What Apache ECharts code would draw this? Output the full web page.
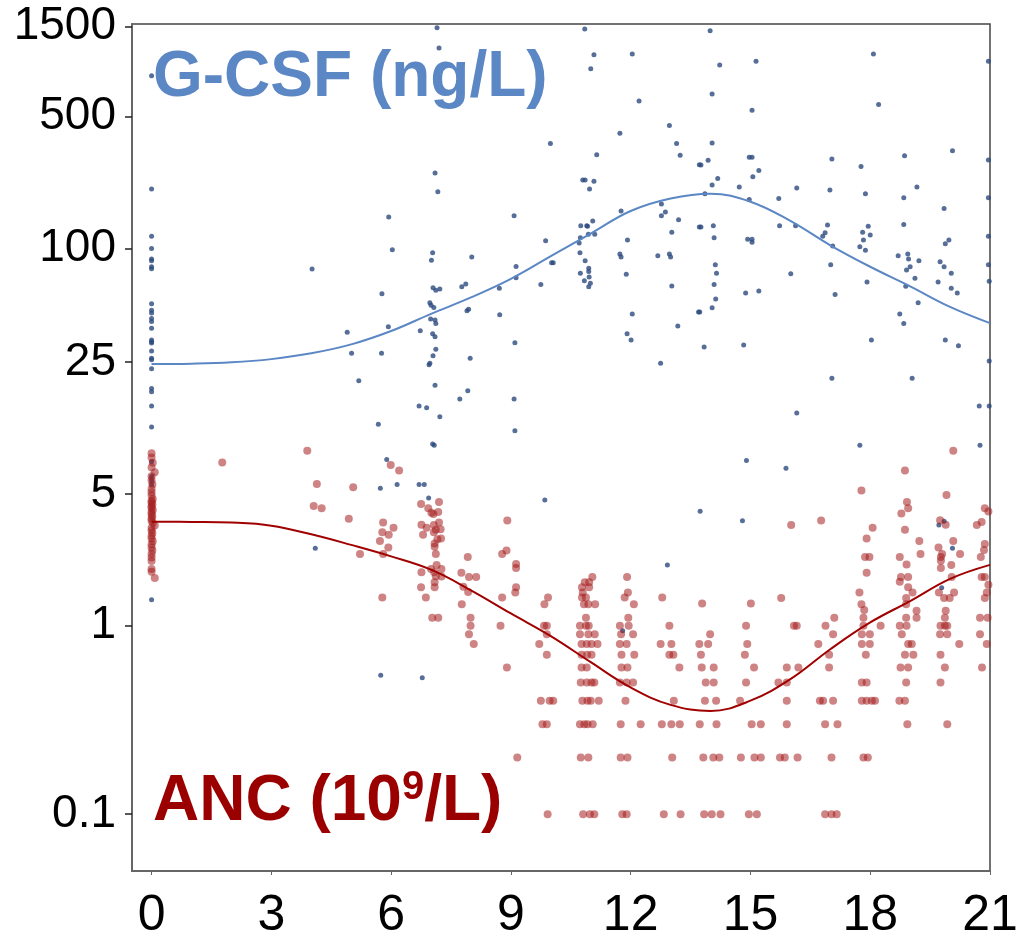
<!DOCTYPE html>
<html>
<head>
<meta charset="utf-8">
<title>G-CSF and ANC by day</title>
<script src="https://cdn.jsdelivr.net/npm/echarts@6/dist/echarts.min.js"></script>
<style>
  html, body { margin: 0; padding: 0; background: #fff; }
  #chart { width: 1018px; height: 939px; }
</style>
</head>
<body>
<div id="chart"></div>
<script>
// tick labels
var xTicks = [0, 3, 6, 9, 12, 15, 18, 21];
var yTicks = [0.1, 1, 5, 25, 100, 500, 1500];

// G-CSF (ng/L) observations: [day, value]
var gcsfPoints = [
  [0, 824], [0, 207], [0, 116], [0, 100], [0, 88], [0, 86], [0, 80], [0, 78], [0, 51], [0, 47],
  [0, 45.5], [0, 42.5], [0, 41], [0, 37.8], [0, 32.7], [0, 32], [0, 31.5], [0, 28.6], [0, 26.2], [0, 25.7],
  [0, 23], [0, 18.1], [0, 17.4], [0, 14.6], [0, 11.3], [0, 7.4], [0, 6.2], [0, 5.9], [0, 5.6], [0, 1.37],
  [4.02, 77.8], [5.94, 147], [6.03, 98.5], [5.77, 57.5], [5.93, 38.4], [4.9, 36], [5.01, 27.8], [5.76, 27.8],
  [5.19, 19.9], [5.68, 11.7], [5.89, 7.6], [5.73, 5.35], [6.15, 5.6], [4.1, 2.57], [5.74, 0.545], [6.78, 0.53],
  [11.8, 0.94],
  [7.15, 1482], [7.2, 1156], [10.85, 1460], [11.08, 1065], [11.0, 898], [12.04, 1074], [12.21, 605], [11.73, 408],
  [9.99, 360], [11.15, 314], [7.1, 251], [7.17, 200], [10.8, 231], [10.86, 231], [11.08, 227], [10.97, 207],
  [12.97, 449], [13.15, 360], [13.24, 312], [11.76, 158], [12.77, 172], [12.87, 156], [12.77, 149], [13.2, 142],
  [9.08, 149], [10.75, 132], [10.9, 132], [10.92, 131], [11.05, 140], [10.94, 119], [11.1, 119], [10.74, 114],
  [10.71, 107], [11.92, 111], [13.03, 122], [9.87, 110], [7.04, 95], [7.01, 86.6], [8.02, 90], [10.73, 95],
  [10.86, 86], [11.73, 93.5], [11.76, 90], [12.68, 91.5], [12.97, 93.5], [13.0, 90], [9.13, 80.3], [10.02, 84],
  [10.06, 84], [10.95, 78.5], [10.95, 75.6], [10.74, 74], [10.96, 70.5], [10.99, 65.5], [10.95, 62.7], [10.84, 67.5],
  [11.89, 73], [13.03, 63.3], [9.13, 70], [9.75, 64.5], [8.71, 61.5], [7.77, 62.7], [7.87, 64.8], [7.05, 62],
  [7.12, 60], [7.22, 61], [6.97, 51.5], [7.0, 50], [7.07, 48.7], [7.9, 46.7], [7.94, 47.6], [8.72, 44.5],
  [6.99, 42.3], [7.1, 41.8], [7.12, 40], [12.04, 45], [13.18, 38.8], [13.7, 46], [13.72, 130], [13.72, 278],
  [13.99, 1429], [14.23, 940], [15.14, 983], [14.04, 660], [15.04, 540], [18.08, 1074], [18.21, 580], [20.96, 983],
  [14.04, 362], [13.76, 277], [13.94, 294], [14.04, 217], [13.86, 195], [14.18, 235], [14.97, 305], [15.04, 305],
  [15.06, 240], [15.21, 259], [14.72, 212], [14.97, 182], [15.71, 184], [16.16, 209], [17.04, 298], [16.99, 204],
  [17.77, 272], [17.88, 195], [18.86, 310], [18.84, 186], [18.84, 134], [19.17, 212], [20.06, 330], [19.85, 163],
  [20.96, 295], [20.96, 186], [20.96, 116], [20.96, 82], [20.98, 67], [13.76, 130], [14.07, 132], [14.09, 114],
  [14.93, 112], [15.04, 112], [15.04, 108], [15.73, 132], [16.13, 132], [16.93, 133], [16.87, 121], [16.81, 116],
  [17.06, 103], [17.81, 122], [17.83, 111], [17.95, 131], [18.0, 118], [17.74, 102], [17.88, 98], [14.12, 82],
  [14.15, 74], [14.09, 64.5], [14.13, 54], [14.04, 48.5], [13.73, 46], [14.88, 58], [15.21, 59.5], [16.01, 73.5],
  [17.01, 82], [17.12, 57], [17.92, 66.5], [18.7, 91.5], [18.94, 93.5], [18.96, 88], [19.22, 86], [19.0, 80],
  [18.91, 77], [19.12, 69.5], [18.89, 63], [19.2, 51.5], [18.74, 45], [18.84, 40], [19.75, 85], [19.85, 80],
  [19.88, 106], [19.97, 111], [19.7, 66.5], [20.03, 74], [20.03, 61.5], [20.18, 58],
  [13.84, 30], [14.83, 30.8], [18.03, 32.7], [19.88, 32.7], [20.21, 30.5], [20.98, 25.3], [17.04, 20.5], [19.05, 20.5],
  [20.73, 14.6], [20.98, 14.6], [16.16, 13.4], [17.74, 9.05], [20.75, 9.05], [14.9, 7.5], [15.89, 6.83], [13.74, 4.04],
  [14.8, 3.6], [19.72, 3.42], [19.85, 3.58], [20.06, 2.57], [19.79, 1.59],
  [6.73, 36.6], [7.04, 35.3], [7.1, 34], [7.12, 29.2], [7.05, 27], [6.97, 24.6], [6.95, 24.2], [7.98, 26.2],
  [7.1, 18.8], [7.92, 17.6], [7.72, 15.9], [6.7, 14.6], [6.89, 14.3], [7.22, 12.8], [7.04, 9.2], [7.08, 9.05],
  [9.1, 31.6], [9.08, 15.9], [9.1, 10.8], [6.7, 5.6], [6.83, 5.6], [6.94, 4.75], [9.85, 4.64], [11.91, 35.3],
  [12.01, 32.7], [12.75, 24.6], [12.92, 2.1]
];

// ANC (10^9/L) observations: [day, value]
var ancPoints = [
  [0, 8.2], [0, 7.8], [0.03, 7.3], [0, 6.9], [0.08, 6.5], [0, 6.2], [0, 5.9], [0.02, 5.6], [0, 5.3], [0, 5.1],
  [0, 4.9], [0.03, 4.7], [0, 4.6], [0, 4.5], [0.02, 4.4], [0, 4.3], [0, 4.2], [0.03, 4.1], [0, 4.0], [0, 3.9],
  [0.02, 3.8], [0, 3.7], [0, 3.6], [0.03, 3.5], [0.08, 3.4], [0, 3.3], [0, 3.2], [0.02, 3.1], [0, 3.0], [0, 2.9],
  [0.03, 2.8], [0, 2.7], [0, 2.6], [0.02, 2.5], [0, 2.4], [0, 2.3], [0, 2.2], [0, 2.0], [0, 1.93], [0.08, 1.79],
  [3.9, 8.45], [1.77, 7.33], [4.14, 5.64], [5.05, 5.42], [4.06, 4.31], [4.26, 4.19], [4.94, 3.69], [5.99, 7.1],
  [6.2, 6.64], [5.8, 3.52], [6.06, 3.3], [5.78, 3.13], [5.94, 3.03], [5.72, 2.81], [5.93, 2.6], [5.8, 2.4],
  [5.22, 2.4], [5.78, 1.41],
  [6.75, 4.42], [7.2, 4.52], [6.93, 4.19], [7.01, 3.97], [7.18, 4.0], [7.06, 3.91], [6.76, 3.43], [6.89, 3.3],
  [7.2, 3.52], [7.07, 3.42], [6.8, 3.03], [7.12, 3.22], [7.24, 3.24], [7.07, 3.13], [7.25, 2.9], [7.16, 2.87],
  [7.09, 2.73], [7.09, 2.62], [7.12, 2.4], [7.14, 2.1], [7.0, 2.0], [7.26, 2.0], [7.26, 1.82], [6.76, 1.92],
  [7.08, 1.92], [7.12, 1.83], [6.75, 1.6], [7.09, 1.7], [7.09, 1.6], [6.87, 1.41], [7.03, 1.1], [7.18, 1.1],
  [7.92, 2.31], [7.76, 1.91], [7.95, 1.81], [8.13, 1.81], [7.81, 1.61], [7.93, 1.51], [7.77, 1.3], [7.99, 1.1],
  [8.91, 3.61], [8.78, 2.4], [8.89, 2.5], [9.13, 2.12], [9.13, 2.02], [9.13, 1.6], [9.11, 1.5], [8.78, 1.41],
  [9.93, 1.41], [9.84, 1.3], [11.04, 1.81], [10.96, 1.7], [10.85, 1.7], [10.78, 1.6], [10.96, 1.6], [10.8, 1.5],
  [10.78, 1.41], [10.88, 1.41], [10.83, 1.3], [10.94, 1.3], [11.11, 1.3], [11.91, 1.81], [11.93, 1.5], [11.85, 1.41],
  [12.08, 1.3], [12.79, 1.41], [10.88, 1.1], [11.94, 1.1],
  [7.99, 1.0], [8.74, 1.0], [9.83, 1.0], [9.9, 1.0], [10.73, 1.0], [10.88, 1.0], [10.95, 1.0], [11.73, 1.0],
  [11.95, 1.0], [12.97, 1.0],
  [7.95, 0.9], [9.9, 0.9], [10.73, 0.9], [10.94, 0.9], [11.1, 0.9], [11.76, 0.9], [12.06, 0.9],
  [8.07, 0.8], [9.71, 0.8], [10.77, 0.8], [10.9, 0.8], [11.02, 0.8], [11.17, 0.8], [11.73, 0.8], [11.9, 0.8],
  [12.75, 0.8], [13.02, 0.8], [13.72, 0.8],
  [9.9, 0.7], [10.77, 0.7], [10.91, 0.7], [11.02, 0.7], [11.77, 0.7], [12.09, 0.7], [12.97, 0.7], [13.07, 0.7],
  [8.9, 0.6], [10.77, 0.6], [10.9, 0.6], [11.77, 0.6], [11.92, 0.6], [13.22, 0.6],
  [10.75, 0.5], [10.9, 0.5], [11.02, 0.5], [11.09, 0.5], [11.73, 0.5], [11.9, 0.5], [12.06, 0.5],
  [9.75, 0.4], [9.97, 0.4], [10.06, 0.4], [10.79, 0.4], [10.92, 0.4], [11.0, 0.4], [11.2, 0.4], [11.87, 0.4],
  [13.08, 0.4],
  [9.79, 0.3], [9.9, 0.3], [10.73, 0.3], [10.84, 0.3], [10.92, 0.3], [11.05, 0.3], [11.75, 0.3], [12.25, 0.3],
  [12.78, 0.3], [13.02, 0.3], [13.23, 0.3], [13.73, 0.3],
  [9.16, 0.2], [10.75, 0.2], [10.94, 0.2], [11.75, 0.2], [11.92, 0.2], [13.04, 0.2],
  [9.92, 0.1], [10.81, 0.1], [10.98, 0.1], [11.09, 0.1], [11.79, 0.1], [11.9, 0.1], [12.83, 0.1], [13.25, 0.1],
  [17.1, 1.1], [17.83, 1.1], [18.9, 1.1], [19.16, 1.1], [19.87, 1.1], [20.75, 1.1], [20.94, 1.1],
  [14.89, 1.0], [16.09, 1.0], [16.16, 1.0], [16.88, 1.0], [17.83, 1.0], [18.26, 1.0], [18.74, 1.0], [18.91, 1.0],
  [19.76, 1.0], [19.87, 1.0], [19.93, 1.0],
  [13.99, 0.9], [17.07, 0.9], [17.79, 0.9], [17.99, 0.9], [18.79, 0.9], [19.75, 0.9], [19.93, 0.9], [20.75, 0.9],
  [13.94, 0.8], [14.92, 0.8], [16.7, 0.8], [17.79, 0.8], [17.99, 0.8], [18.95, 0.8], [19.04, 0.8], [20.23, 0.8],
  [20.92, 0.8],
  [13.76, 0.7], [14.86, 0.7], [16.97, 0.7], [17.89, 0.7], [18.87, 0.7], [19.08, 0.7], [19.76, 0.7],
  [13.78, 0.6], [14.08, 0.6], [15.09, 0.6], [15.91, 0.6], [16.2, 0.6], [16.97, 0.6], [18.76, 0.6], [18.95, 0.6],
  [19.87, 0.6], [20.8, 0.6],
  [13.88, 0.5], [14.08, 0.5], [14.89, 0.5], [15.7, 0.5], [15.91, 0.5], [17.79, 0.5], [17.91, 0.5], [18.9, 0.5],
  [19.76, 0.5],
  [13.86, 0.4], [14.14, 0.4], [14.74, 0.4], [15.91, 0.4], [16.74, 0.4], [16.82, 0.4], [17.07, 0.4], [17.79, 0.4],
  [17.91, 0.4], [18.04, 0.4], [18.12, 0.4], [18.73, 0.4], [18.87, 0.4],
  [14.15, 0.3], [15.03, 0.3], [15.26, 0.3], [15.91, 0.3], [16.87, 0.3], [17.18, 0.3], [18.93, 0.3], [19.93, 0.3],
  [13.82, 0.2], [14.07, 0.2], [14.22, 0.2], [14.76, 0.2], [15.1, 0.2], [15.26, 0.2], [15.74, 0.2], [15.86, 0.2],
  [16.18, 0.2], [17.03, 0.2], [17.83, 0.2], [17.94, 0.2],
  [13.84, 0.1], [14.03, 0.1], [14.25, 0.1], [14.96, 0.1], [15.16, 0.1], [16.87, 0.1], [17.03, 0.1], [17.16, 0.1],
  [20.08, 8.45], [18.87, 6.64], [17.78, 5.2], [19.91, 4.93], [18.92, 4.52], [18.95, 4.19], [18.78, 3.93], [20.87, 4.19],
  [20.96, 4.03], [19.75, 3.62], [19.89, 3.43], [18.06, 3.3], [18.87, 3.22], [20.79, 3.54], [20.67, 3.42], [17.91, 2.9],
  [19.23, 2.81], [20.08, 2.81], [19.71, 2.6], [20.87, 2.71], [19.26, 2.4], [20.25, 2.4], [19.8, 2.4], [20.85, 2.52],
  [18.74, 2.31], [17.87, 2.31], [17.98, 2.31], [19.77, 2.31], [19.77, 2.21], [19.77, 2.02], [20.77, 2.31], [18.91, 2.11],
  [20.03, 2.1], [17.91, 1.91], [18.77, 1.81], [18.95, 1.81], [20.79, 1.81], [20.87, 1.81], [18.74, 1.71], [20.04, 1.81],
  [18.95, 1.6], [19.06, 1.5], [17.73, 1.5], [18.9, 1.4], [19.72, 1.5], [19.85, 1.4], [19.99, 1.4], [20.1, 1.5],
  [20.92, 1.5], [20.87, 1.4], [20.96, 1.65], [17.78, 1.3], [17.85, 1.21], [18.9, 1.3], [19.16, 1.2], [19.89, 1.2],
  [13.79, 1.31], [15.01, 1.31], [15.77, 1.4], [16.02, 3.42], [16.77, 3.61]
];

// fitted curves, one value per day
var fitDays = [0, 1, 2, 3, 4, 5, 6, 7, 8, 9, 10, 11, 12, 13, 14, 15, 16, 17, 18, 19, 20, 21];
var gcsfFit = [24.4, 24.5, 24.9, 25.9, 27.8, 31, 36.5, 45, 55, 69, 91, 120, 158, 184, 195, 177, 140, 104, 80, 63, 49, 40.2];
var ancFit = [3.56, 3.55, 3.52, 3.39, 3.05, 2.68, 2.33, 1.98, 1.54, 1.16, 0.88, 0.64, 0.47, 0.38, 0.353, 0.4, 0.52, 0.75, 1.04, 1.35, 1.77, 2.1];

var pair = function (xs, ys) {
  return xs.map(function (x, i) { return [x, ys[i]]; });
};

var font = 'Arial, "Liberation Sans", sans-serif';
var chart = echarts.init(document.getElementById('chart'), null, { renderer: 'canvas' });

var option = {
  animation: false,
  backgroundColor: '#fff',
  grid: {
    left: 132, right: 28, top: 24, bottom: 68,
    show: true, borderColor: '#444', borderWidth: 1.5,
    outerBoundsMode: 'none'
  },
  xAxis: {
    type: 'value',
    min: -0.49,
    max: 21,
    splitLine: { show: false },
    axisLine: { show: true, onZero: false, lineStyle: { color: '#666', width: 2 } },
    axisTick: { show: true, customValues: xTicks, length: 4, lineStyle: { color: '#666', width: 1 } },
    axisLabel: { customValues: xTicks, fontSize: 50, margin: 20, color: '#000', fontFamily: font }
  },
  yAxis: {
    type: 'log',
    logBase: 10,
    min: 0.05,
    max: 1550,
    splitLine: { show: false },
    axisLine: { show: true, onZero: false, lineStyle: { color: '#666', width: 2 } },
    axisTick: { show: true, customValues: yTicks, length: 7, lineStyle: { color: '#222', width: 1.5 } },
    axisLabel: {
      customValues: yTicks, fontSize: 46, margin: 16, color: '#000', fontFamily: font,
      formatter: function (v) { return String(+(+v).toPrecision(4)); }
    }
  },
  graphic: [
    {
      type: 'text', left: 153, top: 46, z: 10,
      style: { text: 'G-CSF (ng/L)', fill: '#5b87c5', font: 'bold 64px ' + font }
    },
    {
      type: 'text', left: 153, top: 768, z: 10,
      style: {
        text: '{a|ANC (10}{s|9}{a|/L)}',
        rich: {
          a: { fill: '#9b0000', fontSize: 64, fontWeight: 'bold', fontFamily: font, lineHeight: 66, verticalAlign: 'bottom' },
          s: { fill: '#9b0000', fontSize: 40, fontWeight: 'bold', fontFamily: font, lineHeight: 66, verticalAlign: 'top' }
        }
      }
    }
  ],
  series: [
    {
      name: 'G-CSF', type: 'scatter', data: gcsfPoints, symbolSize: 5,
      itemStyle: { color: '#2c4a7e' }
    },
    {
      name: 'ANC', type: 'scatter', data: ancPoints, symbolSize: 8,
      itemStyle: { color: 'rgba(165,28,28,0.68)' }
    },
    {
      name: 'G-CSF fit', type: 'line', data: pair(fitDays, gcsfFit), smooth: 0.4,
      showSymbol: false, lineStyle: { color: '#5b87c5', width: 2 }, z: 5
    },
    {
      name: 'ANC fit', type: 'line', data: pair(fitDays, ancFit), smooth: 0.4,
      showSymbol: false, lineStyle: { color: '#a00000', width: 2 }, z: 5
    }
  ]
};

chart.setOption(option);
</script>
</body>
</html>
